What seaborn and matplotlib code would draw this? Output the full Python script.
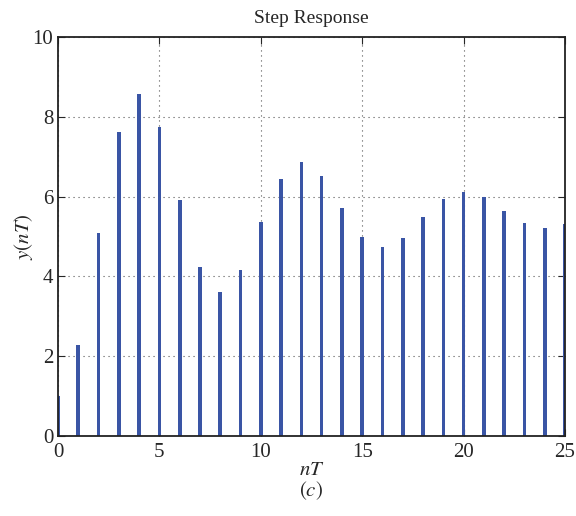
import matplotlib
matplotlib.use("Agg")
import matplotlib.pyplot as plt
import seaborn as sns
import pandas as pd

# step response samples
n = list(range(26))
y = [1.00, 2.27, 5.08, 7.62, 8.58, 7.75, 5.91, 4.24, 3.60, 4.16,
     5.37, 6.45, 6.87, 6.51, 5.72, 5.00, 4.73, 4.97, 5.49, 5.94,
     6.13, 5.98, 5.64, 5.33, 5.22, 5.31]
xticks = [0, 5, 10, 15, 20, 25]
yticks = [0, 2, 4, 6, 8, 10]

sns.set_style("ticks")
plt.rcParams['font.family'] = ['Liberation Serif', 'DejaVu Serif']
plt.rcParams['mathtext.fontset'] = 'stix'
plt.rcParams['xtick.direction'] = 'in'
plt.rcParams['ytick.direction'] = 'in'

df = pd.DataFrame({'n': n, 'y': y})

fig = plt.figure(figsize=(5.76, 5.16), dpi=100)
ax = fig.add_axes([0.1007, 0.155, 0.8803, 0.773])
sns.barplot(data=df, x='n', y='y', native_scale=True, width=0.18,
            color='#3a55a5', saturation=1, ax=ax, linewidth=0)

ax.set_xlim(0, 25)
ax.set_ylim(0, 10)
ax.set_xticks(xticks)
ax.set_yticks(yticks)
ax.tick_params(labelsize=15, top=True, right=True, length=5, width=0.8)
ax.tick_params(axis='x', pad=5)
ax.grid(True, linestyle=(0, (1, 3.5)), color='#555555', linewidth=0.8)
ax.set_axisbelow(True)
for s in ax.spines.values():
    s.set_visible(True)
    s.set_linewidth(1.3)
    s.set_color('#222222')

ax.set_title('Step Response', fontsize=14, pad=10)
ax.set_xlabel('$nT$', fontsize=15, labelpad=-1)
ax.set_ylabel('$y(nT)$', fontsize=15, labelpad=-2)
fig.text(0.5 * (0.1007 + 0.981), 0.05, '$(c)$', ha='center', va='center', fontsize=15)

fig.savefig('out.png', dpi=100)
